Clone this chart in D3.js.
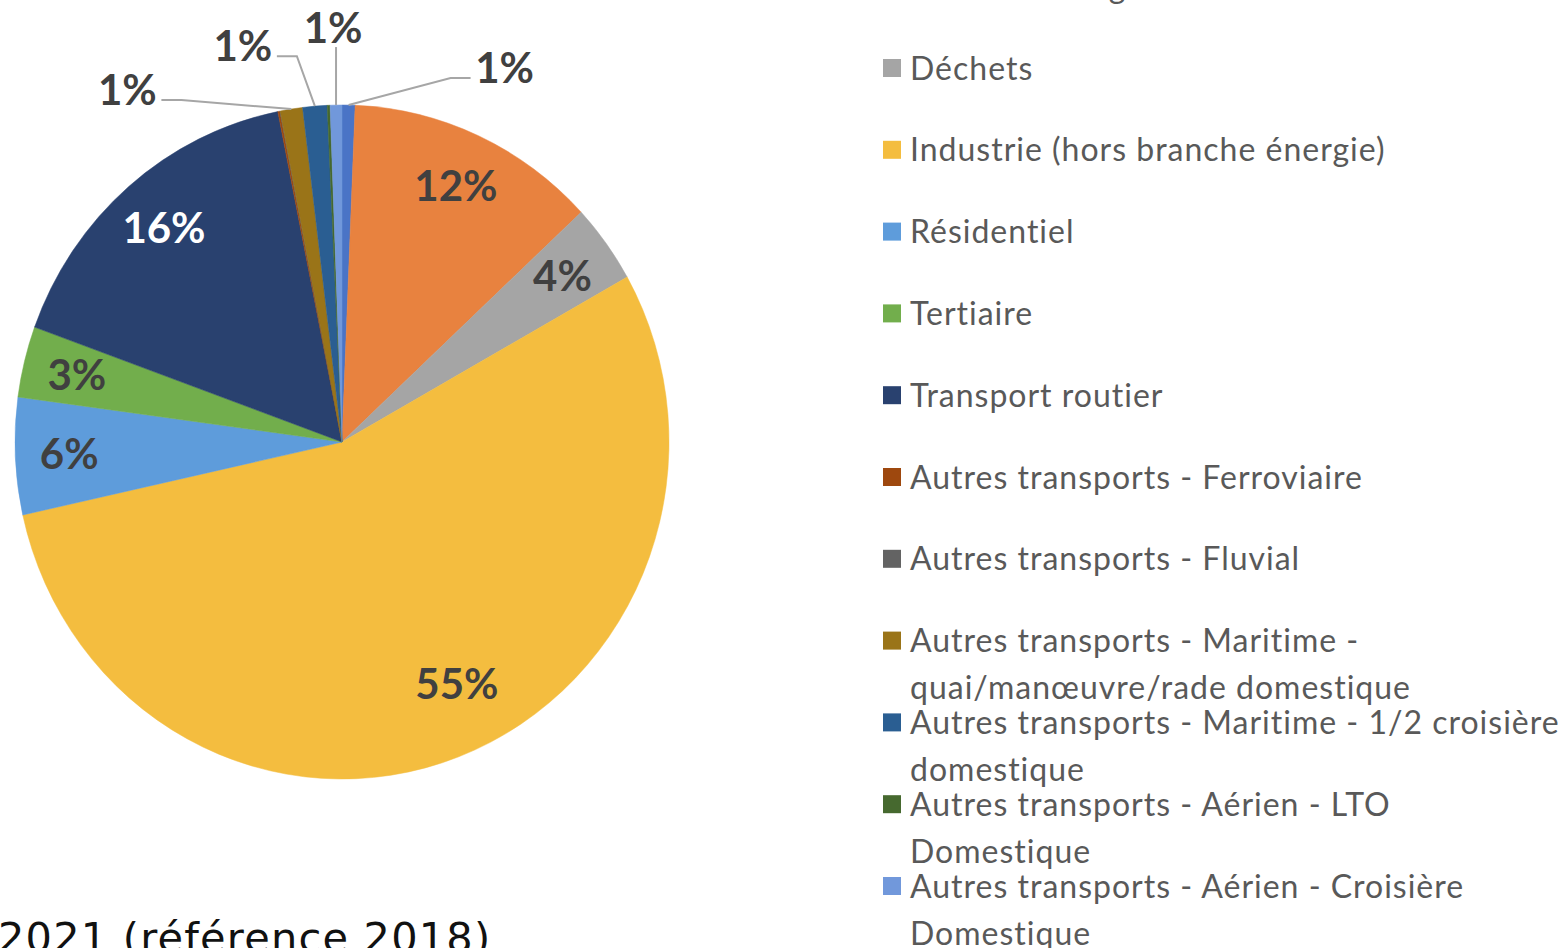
<!DOCTYPE html>
<html>
<head>
<meta charset="utf-8">
<script src="https://cdn.jsdelivr.net/npm/d3@7"></script>
<style>
  body { margin: 0; background: #fff; }
  svg { display: block; }
  .legend-text { font-family: Lato, "Open Sans", sans-serif; font-size: 32px; letter-spacing: 1px; fill: #595959; }
  .pct { font-family: Lato, sans-serif; font-weight: bold; font-size: 42px; fill: #404040; }
  .note { font-family: "DejaVu Sans", sans-serif; font-size: 41.5px; letter-spacing: 1.2px; fill: #111; }
</style>
</head>
<body>
<div id="chart"></div>
<script>
// categories (clockwise from 12 o'clock, same order as the legend)
var categories = [
  "Agriculture",
  "Branche énergie",
  "Déchets",
  "Industrie (hors branche énergie)",
  "Résidentiel",
  "Tertiaire",
  "Transport routier",
  "Autres transports - Ferroviaire",
  "Autres transports - Fluvial",
  "Autres transports - Maritime - quai/manœuvre/rade domestique",
  "Autres transports - Maritime - 1/2 croisière domestique",
  "Autres transports - Aérien - LTO Domestique",
  "Autres transports - Aérien - Croisière Domestique"
];
// share of emissions (%)
var shares = [0.64, 12.4, 3.8, 54.6, 5.6, 3.4, 16.3, 0.1, 0.02, 1.1, 1.2, 0.14, 0.58];
var colors = ["#4a74c6", "#e8823f", "#a5a5a5", "#f4bd3f", "#5e9cdb", "#72ae4c", "#29416f",
              "#9e480e", "#636363", "#9a7418", "#2a5e92", "#46692f", "#7198db"];
var noteText = "2021 (référence 2018)";

// set the dimensions of the canvas
var width = 1565, height = 948;
var cx = 342, cy = 442, rx = 327, ry = 337;

var svg = d3.select("#chart")
  .append("svg")
  .attr("width", width)
  .attr("height", height);

var total = d3.sum(shares);
var data = categories.map(function(c, i) {
  return { name: c, value: shares[i], color: colors[i], pct: Math.round(shares[i] / total * 100) };
});

var pie = d3.pie().sort(null).value(function(d) { return d.value; });
var arc = d3.arc().innerRadius(0).outerRadius(rx);
var arcs = pie(data);

// pie (slightly taller than wide, like the source image)
svg.append("g")
  .attr("transform", "translate(" + cx + "," + cy + ") scale(1," + (ry / rx) + ")")
  .selectAll("path")
  .data(arcs)
  .enter()
  .append("path")
  .attr("d", arc)
  .attr("fill", function(d) { return d.data.color; })
  .attr("stroke", function(d) { return d.data.color; })
  .attr("stroke-width", 0.5);

function pointAt(a, k) {
  return [cx + Math.sin(a) * rx * k, cy - Math.cos(a) * ry * k];
}

// labels inside the big slices (best fit: a bit closer to the centre for the big one)
var inside = arcs.filter(function(d) { return d.data.pct >= 2; });
function insidePos(d) {
  var a = (d.startAngle + d.endAngle) / 2;
  if (d.data.pct > 40) a -= 0.09;
  return pointAt(a, d.data.pct > 40 ? 0.8 : 0.835);
}
svg.selectAll("text.inside")
  .data(inside)
  .enter()
  .append("text")
  .attr("class", "pct")
  .attr("text-anchor", "middle")
  .attr("dy", "0.35em")
  .attr("x", function(d) { return insidePos(d)[0]; })
  .attr("y", function(d) { return insidePos(d)[1]; })
  .style("fill", function(d) { return d.data.name == "Transport routier" ? "#fff" : null; })
  .text(function(d) { return d.data.pct + "%"; });

// callouts for the small slices (label offset from the slice edge)
var callout = {
  "Autres transports - Maritime - quai/manœuvre/rade domestique": [-164, -19],
  "Autres transports - Maritime - 1/2 croisière domestique": [-72, -60],
  "Autres transports - Aérien - Croisière Domestique": [-3, -77],
  "Agriculture": [156, -37]
};
var outside = arcs.filter(function(d) { return d.data.pct >= 1 && d.data.pct < 2; });
outside.forEach(function(d) {
  var p = pointAt((d.startAngle + d.endAngle) / 2, 1);
  var off = callout[d.data.name] || [0, -60];
  var lx = p[0] + off[0], ly = p[1] + off[1];
  var pts;
  if (Math.abs(off[0]) > 40) {
    var s = off[0] > 0 ? 1 : -1;
    var end = [lx - s * 34, ly + 10];
    pts = [p, [end[0] - s * 20, end[1]], end];
  } else {
    pts = [p, [lx + 3, ly + 19]];
  }
  svg.append("path")
    .attr("d", d3.line()(pts))
    .attr("fill", "none")
    .attr("stroke", "#a6a6a6")
    .attr("stroke-width", 2);
  svg.append("text")
    .attr("class", "pct")
    .attr("text-anchor", "middle")
    .attr("dy", "0.35em")
    .attr("x", lx)
    .attr("y", ly)
    .text(d.data.pct + "%");
});

// legend (list scrolled: first rows are above the top edge)
var legendX = 883, legendY0 = 68 - 2 * 81.8, rowStep = 81.8, lineStep = 47, wrapWidth = 655;
var legend = svg.append("g");
data.forEach(function(d, i) {
  var y = legendY0 + i * rowStep;
  legend.append("rect")
    .attr("x", legendX)
    .attr("y", y - 9)
    .attr("width", 18)
    .attr("height", 18)
    .attr("fill", d.color);
  var t = legend.append("text")
    .attr("class", "legend-text")
    .attr("x", legendX + 27)
    .attr("y", y);
  // word wrap
  var words = d.name.split(" "), line = [], lines = [];
  var tmp = t.append("tspan");
  words.forEach(function(w) {
    line.push(w);
    tmp.text(line.join(" "));
    if (tmp.node().getComputedTextLength() > wrapWidth && line.length > 1) {
      line.pop();
      lines.push(line.join(" "));
      line = [w];
    }
  });
  lines.push(line.join(" "));
  tmp.remove();
  lines.forEach(function(l, j) {
    t.append("tspan")
      .attr("x", legendX + 27)
      .attr("dy", j == 0 ? "0.36em" : lineStep)
      .text(l);
  });
});

// note under the chart, cut by the bottom edge
svg.append("text")
  .attr("class", "note")
  .attr("x", -2)
  .attr("y", 952)
  .text(noteText);
</script>
</body>
</html>
